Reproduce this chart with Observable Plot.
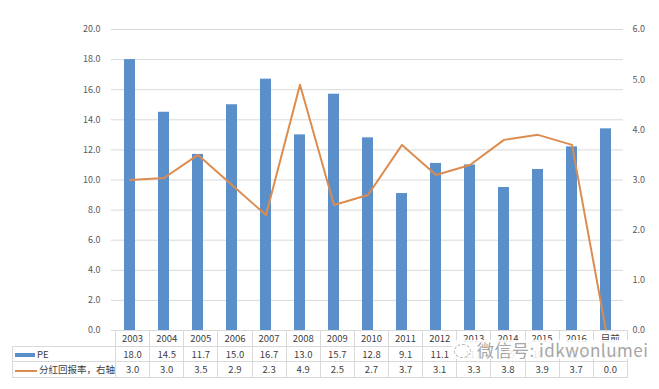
<!DOCTYPE html>
<html><head><meta charset="utf-8">
<script src="https://cdn.jsdelivr.net/npm/d3@7"></script>
<script src="https://cdn.jsdelivr.net/npm/@observablehq/plot@0.6"></script>
<style>
body{margin:0;background:#fff;font-family:"Noto Sans CJK SC","Noto Sans",sans-serif;}
#wrap{position:relative;width:659px;height:389px;overflow:hidden;}
#tbl{position:absolute;left:12px;top:330px;border-collapse:collapse;font-size:9.5px;color:#404040;table-layout:fixed;}
#tbl td{border:1px solid #d9d9d9;height:14.5px;padding:0;text-align:center;white-space:nowrap;overflow:hidden;}
#tbl td.lg{text-align:left;padding-left:2px;}
#tbl tr.hd td.blank{border:none;}
.sw{display:inline-block;vertical-align:middle;margin-right:2px;}
#wm{position:absolute;left:452px;top:340px;height:19px;font-size:17px;line-height:19px;color:#a6a6a6;background:rgba(255,255,255,0.88);padding:0 2px;letter-spacing:0.5px;}
#wm .ic{display:inline-block;width:15px;height:12px;border:1.5px dashed #b0b0b0;border-radius:50%;vertical-align:-1px;margin-right:6px;}
</style></head>
<body><div id="wrap"></div>
<script>
const years = ["2003","2004","2005","2006","2007","2008","2009","2010","2011","2012","2013","2014","2015","2016","目前"];
const pe = [18.0,14.5,11.7,15.0,16.7,13.0,15.7,12.8,9.1,11.1,11.0,9.5,10.7,12.2,13.4];
const payout = [3.0,3.04,3.5,2.9,2.3,4.9,2.5,2.7,3.7,3.1,3.3,3.8,3.9,3.7,0.0];
const leftTicks = [0,2,4,6,8,10,12,14,16,18,20];
const rightTicks = [0,1,2,3,4,5,6];
const seriesNames = ["PE","分红回报率，右轴"];

const k = 20/6;
const data = years.map((y,i)=>({year:y, pe:pe[i], payout:payout[i]}));

const chart = Plot.plot({
  width:659, height:346,
  marginLeft:111, marginRight:36, marginTop:29, marginBottom:16,
  style:{fontFamily:"'Noto Sans CJK SC','Noto Sans',sans-serif", fontSize:"9px", color:"#595959", background:"transparent", overflow:"visible"},
  x:{domain:years, paddingInner:0.69, paddingOuter:0.345, axis:null},
  y:{domain:[0,20], axis:null},
  marks:[
    Plot.ruleY(leftTicks,{stroke:"#d9d9d9", strokeWidth:1}),
    Plot.axisY(leftTicks,{tickSize:0, tickPadding:11, tickFormat:d=>d.toFixed(1), fill:"#595959", label:null}),
    Plot.axisY(rightTicks.map(v=>v*k),{anchor:"right", tickSize:0, tickPadding:9, tickFormat:d=>(d/k).toFixed(1), fill:"#595959", label:null}),
    Plot.barY(data,{x:"year", y:"pe", fill:"#5b8fc9"}),
    Plot.line(data,{x:"year", y:d=>d.payout*k, stroke:"#dc8c4e", strokeWidth:2})
  ]
});
const wrap = document.getElementById("wrap");
chart.style.position="absolute"; chart.style.left="0"; chart.style.top="0";
wrap.appendChild(chart);

// data table
const tbl = document.createElement("table");
tbl.id="tbl";
const cg = document.createElement("colgroup");
const c0=document.createElement("col"); c0.style.width="99px"; cg.appendChild(c0);
years.forEach(()=>{const c=document.createElement("col"); c.style.width="34.13px"; cg.appendChild(c);});
tbl.appendChild(cg);
const hr = document.createElement("tr"); hr.className="hd";
const b = document.createElement("td"); b.className="blank"; hr.appendChild(b);
years.forEach(y=>{const td=document.createElement("td"); td.textContent=y; hr.appendChild(td);});
tbl.appendChild(hr);
const rows = [
  {name:seriesNames[0], vals:pe, sw:'<span class="sw" style="width:20px;height:4px;background:#5b8fc9"></span>'},
  {name:seriesNames[1], vals:payout, sw:'<span class="sw" style="width:22px;height:2px;background:#dc8c4e"></span>'}
];
rows.forEach(r=>{
  const tr=document.createElement("tr");
  const l=document.createElement("td"); l.className="lg"; l.innerHTML=r.sw+r.name; tr.appendChild(l);
  r.vals.forEach(v=>{const td=document.createElement("td"); td.textContent=v.toFixed(1); tr.appendChild(td);});
  tbl.appendChild(tr);
});
wrap.appendChild(tbl);

const wm=document.createElement("div"); wm.id="wm";
wm.innerHTML='<span class="ic"></span>微信号: idkwonlumei';
wrap.appendChild(wm);
</script></body></html>
